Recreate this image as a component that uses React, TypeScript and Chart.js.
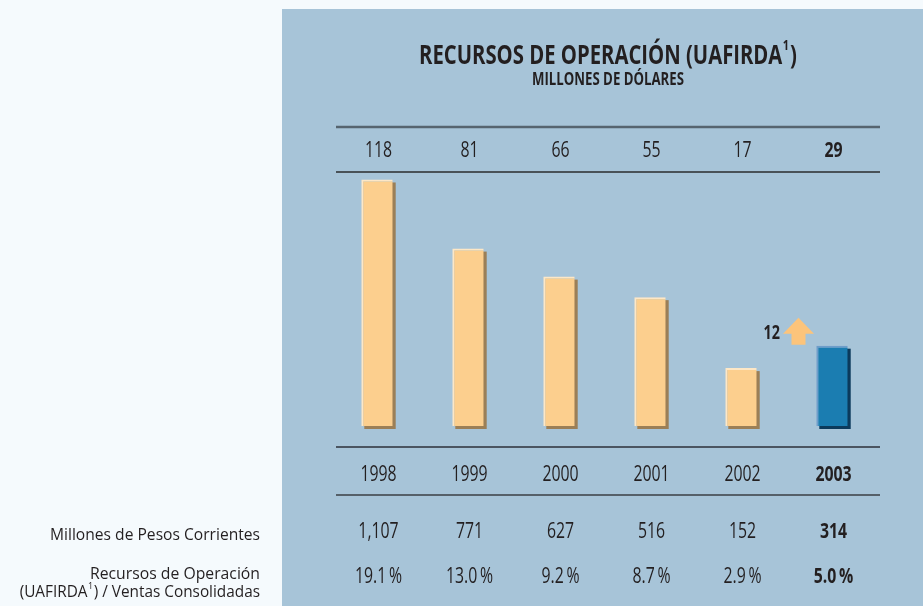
import React, { useEffect, useRef } from 'react';
import { Chart, registerables } from 'chart.js';

Chart.register(...registerables);

// ---- Data ----
const years = ['1998', '1999', '2000', '2001', '2002', '2003'];
const usdMillions = [118, 81, 66, 55, 17, 29];
const pesosMillions = [1107, 771, 627, 516, 152, 314];
const ratioPct = [19.1, 13.0, 9.2, 8.7, 2.9, 5.0];
const highlightIndex = 5;
const changeLabel = '12';

const titleMain = 'RECURSOS DE OPERACIÓN (UAFIRDA';
const titleSup = '1';
const titleEnd = ')';
const subtitle = 'MILLONES DE DÓLARES';
const rowLabelPesos = 'Millones de Pesos Corrientes';
const rowLabelRatio1 = 'Recursos de Operación';
const rowLabelRatio2a = '(UAFIRDA';
const rowLabelRatio2b = ') / Ventas Consolidadas';

// ---- Styles ----
const PAGE_BG = '#f5fafd';
const PANEL_BG = '#a7c4d8';
const TEXT = '#231f20';
const PEACH = '#fccf8e';
const PEACH_HI = '#fde7c6';
const PEACH_SH = '#9b7f57';
const BLUE = '#1b7db1';
const BLUE_HI = '#6e9dca';
const BLUE_SH = '#0b3a5c';
const ARROW = '#fcc47b';
const FAMILY = "'Open Sans', 'Liberation Sans', sans-serif";
const SX = 0.72;

function drawText(
  ctx: CanvasRenderingContext2D,
  text: string,
  x: number,
  y: number,
  opts: { size: number; bold?: boolean; align?: 'left' | 'center' | 'right'; sx?: number; width?: number }
) {
  ctx.save();
  ctx.font = `${opts.bold ? 'bold ' : ''}${opts.size}px ${FAMILY}`;
  ctx.fillStyle = TEXT;
  ctx.textBaseline = 'alphabetic';
  ctx.textAlign = 'left';
  const raw = ctx.measureText(text).width;
  const sx = opts.width ? opts.width / raw : opts.sx ?? SX;
  const w = raw * sx;
  let left = x;
  if (opts.align === 'center') left = x - w / 2;
  else if (opts.align === 'right') left = x - w;
  ctx.translate(left, y);
  ctx.scale(sx, 1);
  ctx.fillText(text, 0, 0);
  ctx.restore();
  return w;
}

function measure(ctx: CanvasRenderingContext2D, text: string, size: number, bold: boolean) {
  ctx.save();
  ctx.font = `${bold ? 'bold ' : ''}${size}px ${FAMILY}`;
  const w = ctx.measureText(text).width;
  ctx.restore();
  return w;
}

const tablePlugin = {
  id: 'tablePlugin',
  beforeDraw(chart: any) {
    const ctx = chart.ctx as CanvasRenderingContext2D;
    ctx.save();
    ctx.fillStyle = PAGE_BG;
    ctx.fillRect(0, 0, chart.width, chart.height);
    ctx.fillStyle = PANEL_BG;
    ctx.fillRect(282, 9, chart.width - 282, chart.height - 9);
    ctx.restore();
  },
  beforeDatasetsDraw(chart: any) {
    const ctx = chart.ctx as CanvasRenderingContext2D;
    const meta = chart.getDatasetMeta(0);
    ctx.save();
    meta.data.forEach((el: any, i: number) => {
      const { x, y, base, width } = el.getProps(['x', 'y', 'base', 'width'], true);
      ctx.fillStyle = i === highlightIndex ? BLUE_SH : PEACH_SH;
      ctx.fillRect(x - width / 2 + 3, y + 3, width, base - y + 0);
    });
    ctx.restore();
  },
  afterDraw(chart: any) {
    const ctx = chart.ctx as CanvasRenderingContext2D;
    const area = chart.chartArea;
    const xs = chart.scales.x;
    const cx = (area.left + area.right) / 2 + 3.5;

    // Title
    const tSize = 26;
    const tsx = 0.78;
    const tMainW = measure(ctx, titleMain, tSize, true) * tsx;
    const supW = measure(ctx, titleSup, 14, true) * tsx;
    const endW = measure(ctx, titleEnd, tSize, true) * tsx;
    const total = tMainW + supW + 1.5 + endW;
    const tx = cx - total / 2;
    drawText(ctx, titleMain, tx, 63.5, { size: tSize, bold: true, sx: tsx });
    drawText(ctx, titleSup, tx + tMainW + 0.5, 50, { size: 14, bold: true, sx: tsx });
    drawText(ctx, titleEnd, tx + tMainW + supW + 1.5, 63.5, { size: tSize, bold: true, sx: tsx });
    drawText(ctx, subtitle, cx, 85, { size: 17.5, bold: true, align: 'center', sx: 0.755 });

    // Lines
    const l = area.left + 4.5;
    const r = area.right + 2.5;
    const hline = (y: number, color: string, w: number) => {
      ctx.save();
      ctx.strokeStyle = color;
      ctx.lineWidth = w;
      ctx.beginPath();
      ctx.moveTo(l, y);
      ctx.lineTo(r, y);
      ctx.stroke();
      ctx.restore();
    };
    hline(area.top - 45, '#56646f', 2.5);
    hline(area.top, '#2a2c2e', 1.5);
    hline(area.bottom + 21, '#4b5561', 2);
    hline(area.bottom + 69, '#3a3f45', 1.5);

    // Rows
    years.forEach((yr, i) => {
      const px = xs.getPixelForValue(i) + 1.5;
      const b = i === highlightIndex;
      drawText(ctx, String(usdMillions[i]), px, area.top - 15, { size: 22, bold: b, align: 'center' });
      drawText(ctx, yr, px, area.bottom + 55, { size: 22, bold: b, align: 'center' });
      drawText(ctx, pesosMillions[i].toLocaleString('en-US'), px, area.bottom + 112, { size: 22, bold: b, align: 'center' });
      drawText(ctx, ratioPct[i].toFixed(1) + '\u2009%', px, area.bottom + 157, { size: 22, bold: b, align: 'center' });
    });

    // Left labels
    const lsize = 15.5;
    drawText(ctx, rowLabelPesos, 260, 540, { size: lsize, align: 'right', width: 210 });
    drawText(ctx, rowLabelRatio1, 260, 579, { size: lsize, align: 'right', width: 170 });
    const ls = 0.99;
    const bW = measure(ctx, rowLabelRatio2b, lsize, false) * ls;
    const aW = measure(ctx, rowLabelRatio2a, lsize, false) * ls;
    const sW = measure(ctx, titleSup, 9, false) * ls;
    const startX = 260 - bW - sW - aW - 1;
    drawText(ctx, rowLabelRatio2a, startX, 597, { size: lsize, sx: ls });
    drawText(ctx, titleSup, startX + aW + 0.5, 588.5, { size: 9, sx: ls });
    drawText(ctx, rowLabelRatio2b, startX + aW + sW + 1, 597, { size: lsize, sx: ls });

    // Arrow and change label near highlighted bar
    const el = chart.getDatasetMeta(0).data[highlightIndex];
    const { x, y } = el.getProps(['x', 'y'], true);
    const ax = x - 33.5;
    const bottom = y - 1;
    ctx.save();
    ctx.fillStyle = ARROW;
    ctx.beginPath();
    ctx.moveTo(ax - 7, bottom);
    ctx.lineTo(ax + 7, bottom);
    ctx.lineTo(ax + 7, bottom - 11);
    ctx.lineTo(ax + 15.5, bottom - 11);
    ctx.lineTo(ax, bottom - 27);
    ctx.lineTo(ax - 15.5, bottom - 11);
    ctx.lineTo(ax - 7, bottom - 11);
    ctx.closePath();
    ctx.fill();
    ctx.restore();
    drawText(ctx, changeLabel, ax - 18.5, bottom - 6, { size: 20, bold: true, align: 'right' });
  },
};

export default function App() {
  const ref = useRef<HTMLCanvasElement | null>(null);
  useEffect(() => {
    if (!ref.current) return;
    const chart = new Chart(ref.current, {
      type: 'bar',
      data: {
        labels: years,
        datasets: [
          {
            data: usdMillions,
            base: -14,
            backgroundColor: usdMillions.map((_, i) => (i === highlightIndex ? BLUE : PEACH)),
            borderColor: usdMillions.map((_, i) => (i === highlightIndex ? BLUE_HI : PEACH_HI)),
            borderWidth: { left: 2, top: 2, right: 0, bottom: 0 },
            borderSkipped: false,
            barPercentage: 0.345,
            categoryPercentage: 1,
          } as any,
        ],
      },
      options: {
        responsive: false,
        animation: false,
        events: [],
        layout: { padding: { left: 331.5, right: 45.5, top: 172, bottom: 180 } },
        plugins: { legend: { display: false }, tooltip: { enabled: false }, title: { display: false } },
        scales: {
          x: { display: false, offset: true },
          y: { display: false, min: -14, max: 122 },
        },
      },
      plugins: [tablePlugin],
    });
    return () => chart.destroy();
  }, []);
  return (
    <div style={{ position: 'fixed', left: 0, top: 0, width: 923, height: 606, background: PAGE_BG }}>
      <canvas ref={ref} width={923} height={606} style={{ display: 'block' }} />
    </div>
  );
}
